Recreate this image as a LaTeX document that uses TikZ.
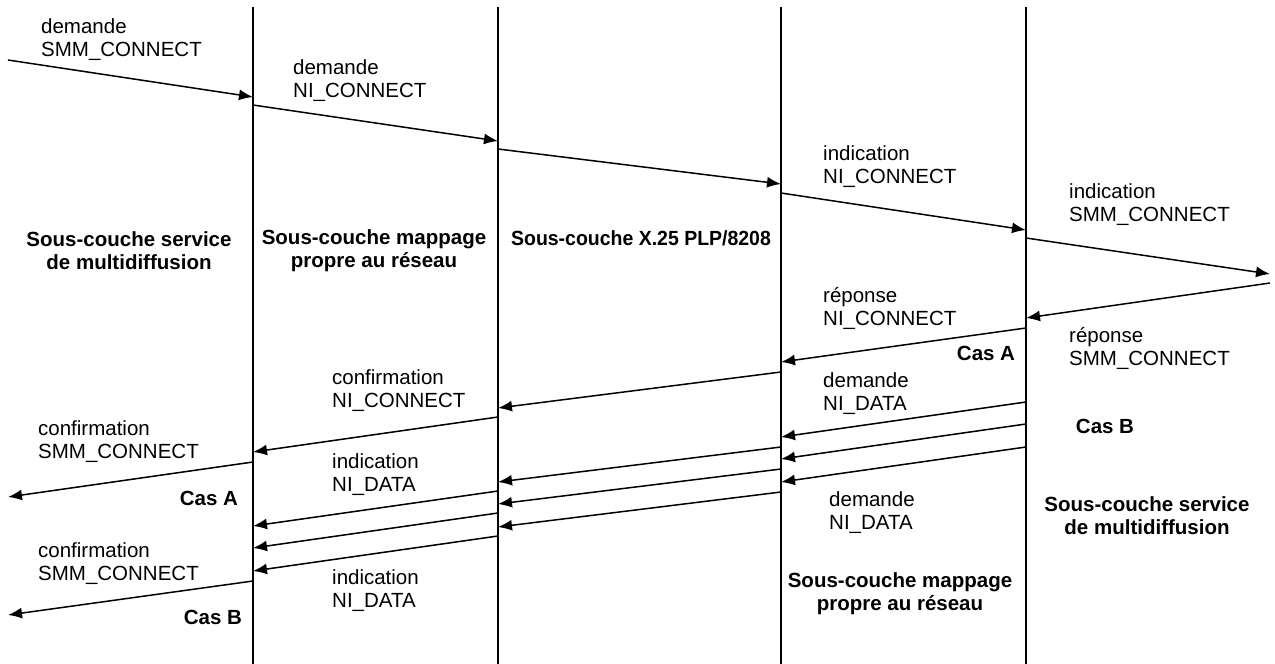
\documentclass[tikz,border=0pt]{standalone}
\usepackage{fontspec}
\setmainfont{Liberation Sans}
\usetikzlibrary{calc,arrows.meta}
\tikzset{>={Latex[length=14pt,width=11pt]}, % filled triangle tips
  lifeline/.style={line width=2pt},
  msg/.style={->, line width=1.5pt},
  prim/.style={anchor=west, align=left, inner sep=0pt,
    font=\fontsize{20.5}{23}\selectfont},
  layer/.style={align=center, inner sep=0pt,
    font=\bfseries\fontsize{20.5}{23}\selectfont},
  cas/.style={inner sep=0pt, font=\bfseries\fontsize{20.5}{23}\selectfont},
}
\newcommand{\msg}[4]{\draw [msg] ($(#1)+(0,#2)$) -- ($(#3)+(0,#4)$);}

\begin{document}
\begin{tikzpicture}[x=1pt,y=-1pt]
  \useasboundingbox (0,0) rectangle (1275,664);

  % boundaries between the sub-layers
  \coordinate (edge l) at (8,0);
  \coordinate (sm-nm) at (253,0);
  \coordinate (nm-plp) at (498,0);
  \coordinate (plp-nm) at (781,0);
  \coordinate (nm-sm) at (1026,0);
  \coordinate (edge r) at (1270,0);
  \foreach \b in {sm-nm,nm-plp,plp-nm,nm-sm}
    \draw [lifeline] ($(\b)+(0,7)$) -- ($(\b)+(0,664)$);

  % sub-layer names
  \node [layer] (sm left) at (129,251) {Sous-couche service\\de multidiffusion};
  \node [layer] (nm left) at (374,251) {Sous-couche mappage\\propre au réseau};
  \node [layer, xscale=0.95] (plp) at (641,238) {Sous-couche X.25 PLP/8208};
  \node [layer] (sm right) at (1147,516) {Sous-couche service\\de multidiffusion};
  \node [layer] (nm right) at (900,594) {Sous-couche mappage\\propre au réseau};

  % connection set-up
  \msg{edge l}{60}{sm-nm}{97}
  \node [prim] (req smm) at (41,40) {demande\\SMM\_CONNECT};
  \msg{sm-nm}{105}{nm-plp}{141}
  \node [prim] (req ni) at (293,81) {demande\\NI\_CONNECT};
  \msg{nm-plp}{149}{plp-nm}{184}
  \msg{plp-nm}{193}{nm-sm}{230}
  \node [prim] (ind ni) at (823,167) {indication\\NI\_CONNECT};
  \msg{nm-sm}{238}{edge r}{274}
  \node [prim] (ind smm) at (1069,205) {indication\\SMM\_CONNECT};

  % answer, case A
  \msg{edge r}{283}{nm-sm}{318}
  \node [prim] (rsp smm) at (1069,348) {réponse\\SMM\_CONNECT};
  \msg{nm-sm}{328}{plp-nm}{362}
  \node [prim] (rsp ni) at (823,308) {réponse\\NI\_CONNECT};
  \node [cas] (cas a r) at (986,353) {Cas A};
  \msg{plp-nm}{372}{nm-plp}{408}
  \node [prim] (cnf ni) at (332,391) {confirmation\\NI\_CONNECT};
  \msg{nm-plp}{417}{sm-nm}{452}
  \msg{sm-nm}{462}{edge l}{497}
  \node [prim] (cnf smm a) at (38,442) {confirmation\\SMM\_CONNECT};
  \node [cas] (cas a l) at (209,498) {Cas A};

  % data, case B
  \foreach \y in {0,22,45} {
    \msg{nm-sm}{402+\y}{plp-nm}{437+\y}
    \msg{plp-nm}{447+\y}{nm-plp}{482+\y}
    \msg{nm-plp}{491+\y}{sm-nm}{526+\y}
  }
  \node [prim] (req data a) at (823,394) {demande\\NI\_DATA};
  \node [prim] (req data b) at (829,513) {demande\\NI\_DATA};
  \node [cas] (cas b r) at (1105,426) {Cas B};
  \node [prim] (ind data a) at (332,475) {indication\\NI\_DATA};
  \node [prim] (ind data b) at (332,591) {indication\\NI\_DATA};
  \msg{sm-nm}{581}{edge l}{615}
  \node [prim] (cnf smm b) at (38,564) {confirmation\\SMM\_CONNECT};
  \node [cas] (cas b l) at (213,617) {Cas B};

\end{tikzpicture}
\end{document}
